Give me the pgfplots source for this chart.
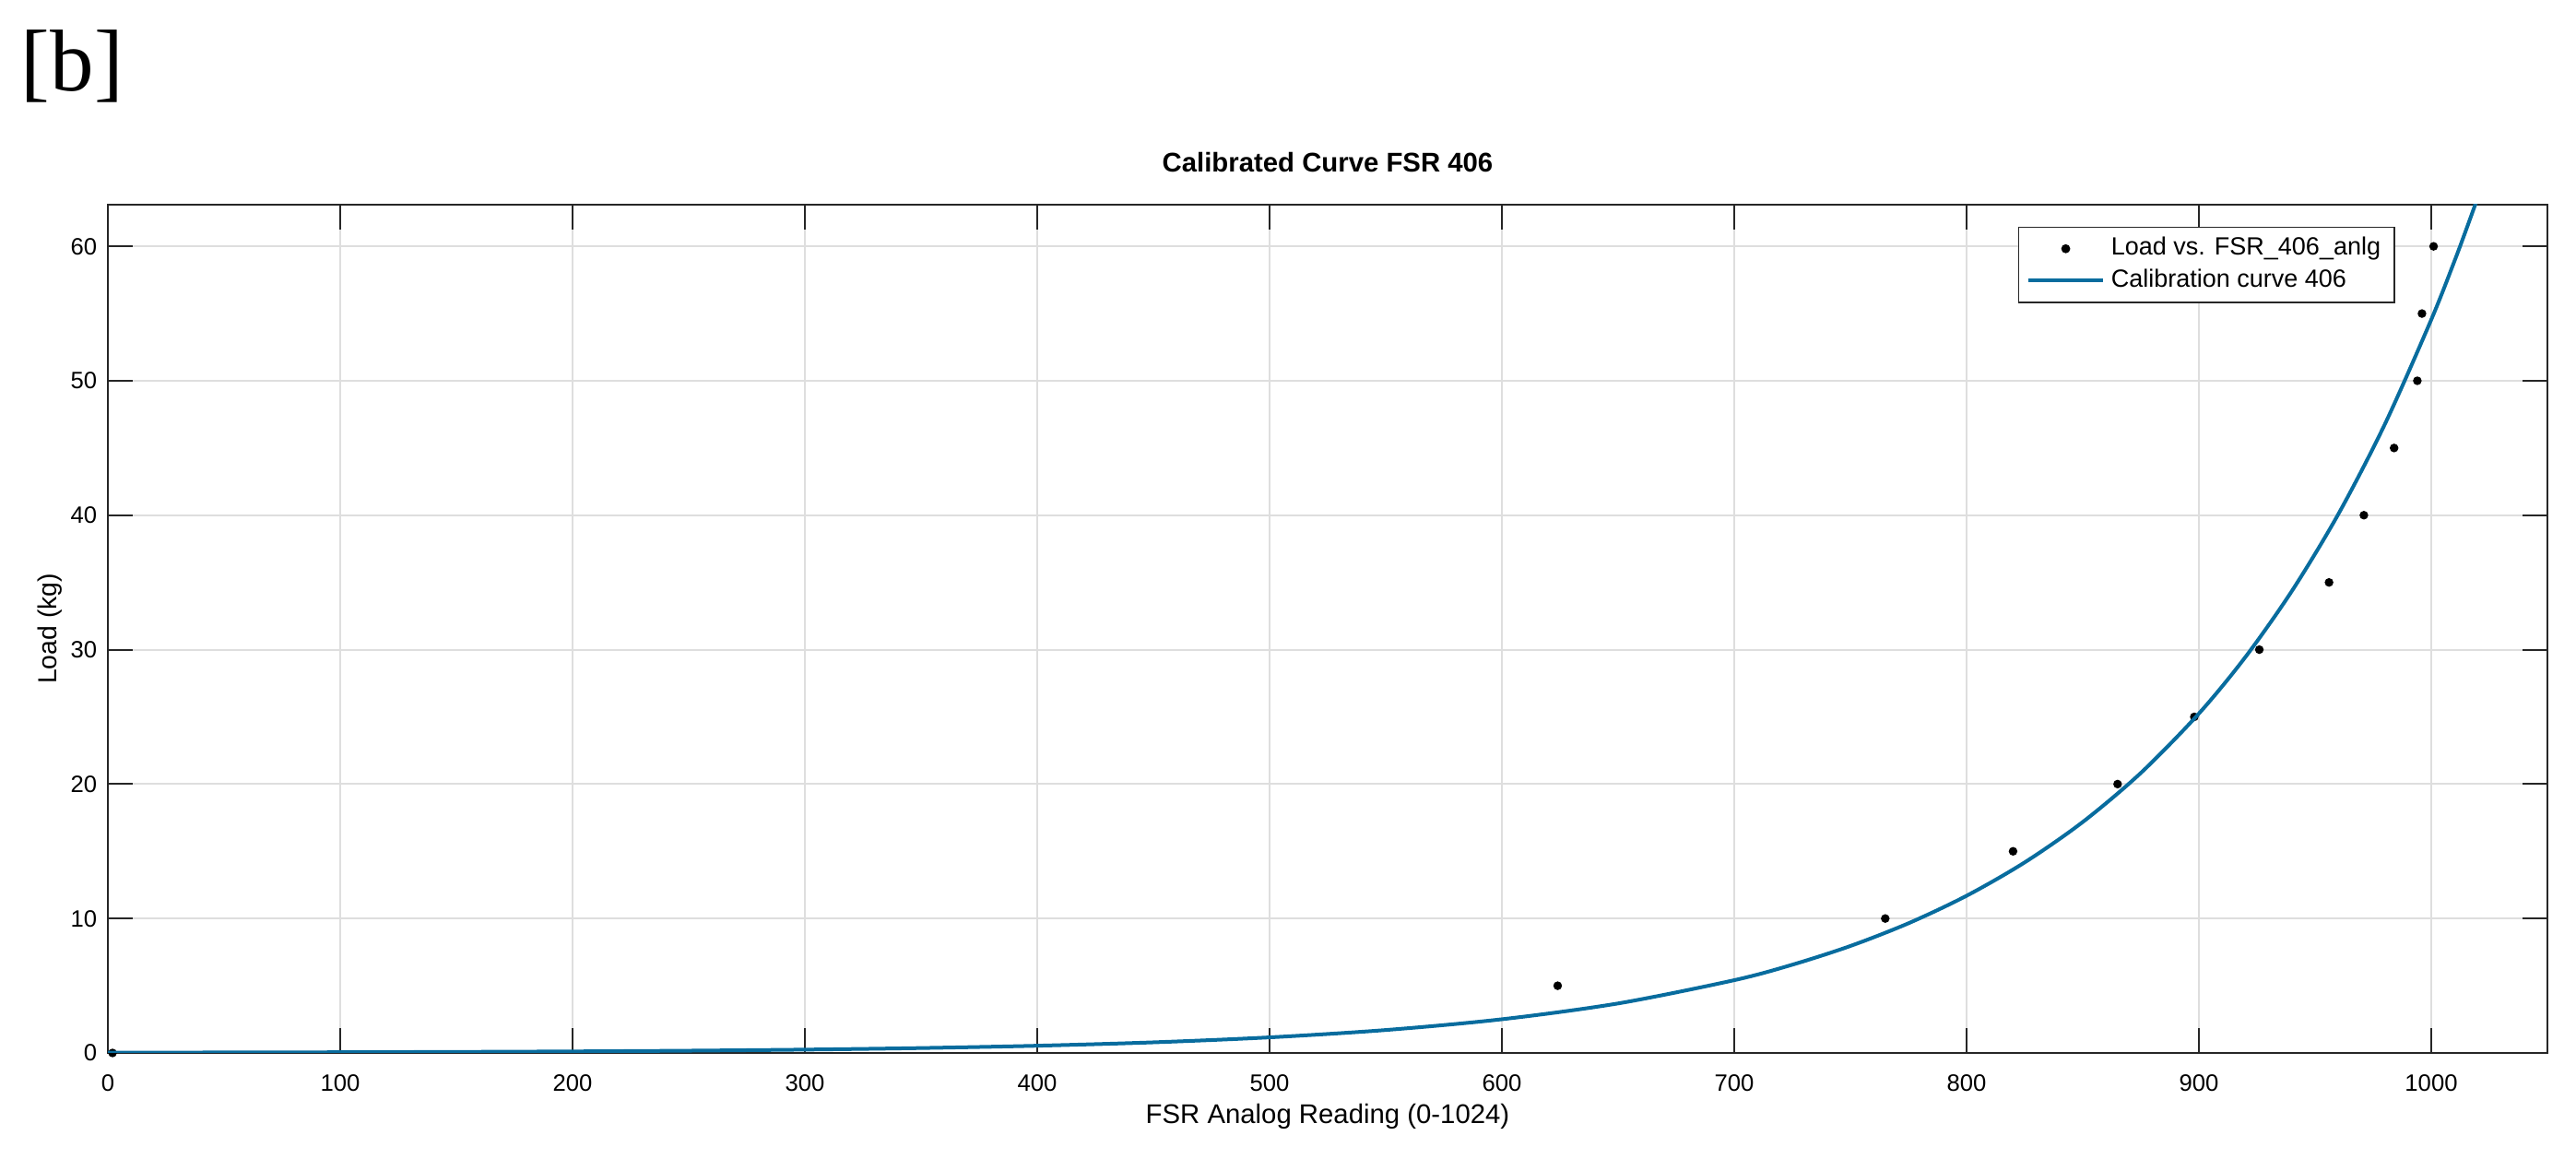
\documentclass[border=0pt]{standalone}
\usepackage{fontspec}
\setmainfont{Liberation Sans}
\newfontfamily\panelfont{Liberation Serif}
\usepackage{pgfplots}
\usepackage{pgfplotstable}
\pgfplotsset{compat=1.18}

\definecolor{mlblue}{RGB}{8,108,158}
\definecolor{mlgrid}{RGB}{222,222,222}
\definecolor{mlaxis}{RGB}{38,38,38}

\pgfplotsset{
  dotlegend/.style={legend image code/.code={\draw[mark repeat=2,mark phase=2,##1]
    plot coordinates {(0pt,0pt) (12.2pt,0pt) (24.4pt,0pt)};}},
  linelegend/.style={legend image code/.code={\draw[##1] (0pt,0pt) -- (24.4pt,0pt);}},
}

% measured load vs. analog reading
\pgfplotstableread{
x y
2 0
624 5
765 10
820 15
865 20
898 25
926 30
956 35
971 40
984 45
994 50
996 55
1001 60
}\loaddata

% calibration curve
\pgfplotstableread{
x y
0 0.0247
50 0.0363
100 0.0533
150 0.0784
200 0.1152
250 0.1693
300 0.2488
350 0.3657
400 0.5374
450 0.7898
500 1.1607
550 1.7058
600 2.5069
650 3.684
700 5.414
725 6.565
750 7.958
775 9.648
800 11.693
825 14.175
850 17.18
875 20.83
900 25.25
920 29.45
940 34.36
960 40.08
980 46.76
1000 54.55
1010 58.91
1015 61.23
1020 63.62
}\fitcurve

\begin{document}
\begin{tikzpicture}
\begin{axis}[
  at={(35.1pt,34.5pt)}, anchor=south west,
  scale only axis, width=793.8pt, height=276pt,
  xmin=0, xmax=1050, ymin=0, ymax=63.1,
  xtick={0,100,...,1000}, ytick={0,10,...,60},
  clip mode=individual,
  grid=major,
  major grid style={mlgrid, line width=0.6pt},
  axis line style={mlaxis, line width=0.6pt},
  tick style={mlaxis, line width=0.6pt},
  tick align=inside, major tick length=8pt,
  xtick pos=both, ytick pos=both,
  tick label style={font=\fontsize{7.7}{9}\selectfont},
  /pgf/number format/assume math mode=true,
  /pgf/number format/1000 sep={},
  xticklabel style={yshift=-3.5pt},
  title={Calibrated Curve FSR 406},
  title style={at={(axis description cs:0.5,1)}, anchor=south, yshift=1pt,
    font=\bfseries\fontsize{8.8}{10}\selectfont},
  xlabel={FSR Analog Reading (0-1024)},
  xlabel style={at={(axis description cs:0.5,-0.075)}, anchor=center,
    font=\fontsize{8.8}{10}\selectfont},
  ylabel={Load (kg)},
  ylabel style={at={(axis description cs:-0.0239,0.5)}, anchor=center,
    font=\fontsize{8.5}{10}\selectfont},
  legend style={at={(0.9376,0.9743)}, anchor=north east,
    draw=mlaxis, line width=0.5pt,
    font=\fontsize{8.1}{9}\selectfont,
    inner xsep=2.5pt, inner ysep=1.8pt, row sep=0pt,
    nodes={inner ysep=1.3pt, text height=6pt, text depth=1.8pt},
    cells={anchor=west}},
]
\addplot[only marks, mark=*, mark size=1.2pt, black, dotlegend]
  table {\loaddata};
\addlegendentry{Load vs. FSR\_406\_anlg}
\addplot[mlblue, line width=1.2pt, no marks, smooth, linelegend]
  table {\fitcurve};
\addlegendentry{Calibration curve 406}
\node[anchor=north west, inner sep=0pt, font=\panelfont\fontsize{28.5}{30}\selectfont]
  at (rel axis cs:-0.0358,1.2065) {[b]};
\end{axis}
\pgfresetboundingbox
\useasboundingbox (0,0) rectangle (838.2pt,377.1pt);
\end{tikzpicture}
\end{document}
